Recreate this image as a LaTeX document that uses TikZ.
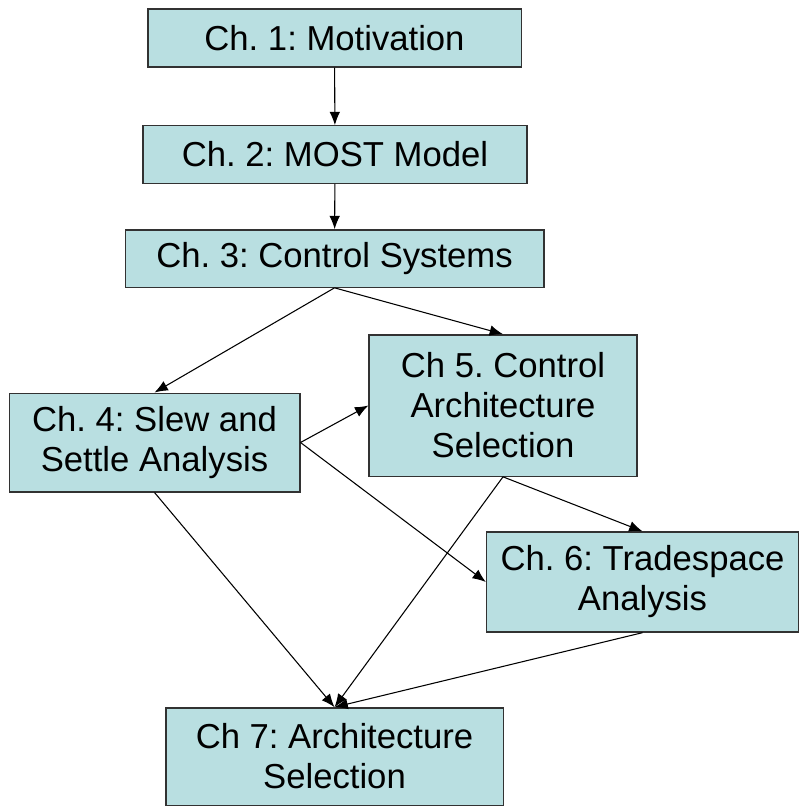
\documentclass[tikz,border=0pt]{standalone}
\usepackage{fontspec}
\setmainfont{Liberation Sans}
\usetikzlibrary{arrows.meta}
\definecolor{boxfill}{RGB}{185,223,225}
\definecolor{boxline}{RGB}{50,50,50}
\tikzset{
  chap/.style={draw=boxline, line width=1pt, fill=boxfill, align=center,
    inner sep=0pt, font=\fontsize{26}{30}\selectfont},
  link/.style={->, line width=0.8pt},
}
\frenchspacing
\begin{document}
\begin{tikzpicture}[x=0.75pt, y=-0.75pt, >={Latex[length=10pt,width=8pt]}]
\useasboundingbox (0,0) rectangle (799,806);
% chapters
\node[chap, minimum width=280pt, minimum height=43.5pt] (n1) at (334.5,38) {Ch. 1: Motivation};
\node[chap, minimum width=288pt, minimum height=43pt] (n2) at (335,154.5) {Ch. 2: MOST Model};
\node[chap, minimum width=314pt, minimum height=43pt] (n3) at (334.5,258.5) {Ch. 3: Control Systems};
\node[chap, minimum width=218pt, minimum height=74pt] (n4) at (154.5,442.5) {Ch. 4: Slew and\\Settle Analysis};
\node[chap, minimum width=201pt, minimum height=106pt] (n5) at (503,405.5) {Ch 5. Control\\Architecture\\Selection};
\node[chap, minimum width=234pt, minimum height=75pt] (n6) at (642.5,582) {Ch. 6: Tradespace\\Analysis};
\node[chap, minimum width=253pt, minimum height=73pt] (n7) at (334.5,756.5) {Ch 7: Architecture\\Selection};
% links
\draw[link] (n1) -- (n2);
\draw[link] (n2) -- (n3);
\draw[link] (n3.south) -- (n4.north);
\draw[link] (n3.south) -- (n5.north);
\draw[link] (n4.east) -- (n5.west);
\draw[link] (n4.east) -- (n6.west);
\draw[link] (n4.south) -- (n7.north);
\draw[link] (n5.south) -- (n6.north);
\draw[link] (n5.south) -- (n7.north);
\draw[link] (n6.south) -- (n7.north);
\end{tikzpicture}
\end{document}
